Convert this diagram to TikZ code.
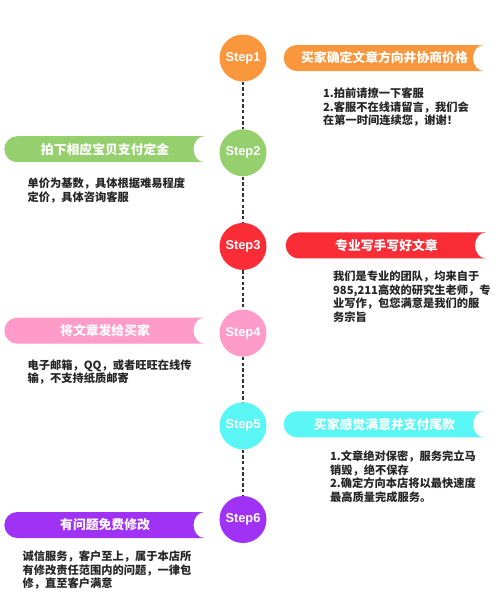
\documentclass[tikz,border=0pt]{standalone}
\usepackage{fontspec}
\setmainfont{Liberation Sans}
\newfontfamily\cjk{Noto Sans CJK SC}
\usetikzlibrary{positioning, shapes.misc}

\definecolor{stepone}{RGB}{250,150,60}
\definecolor{steptwo}{RGB}{150,208,110}
\definecolor{stepthree}{RGB}{250,45,55}
\definecolor{stepfour}{RGB}{255,155,200}
\definecolor{stepfive}{RGB}{90,245,245}
\definecolor{stepsix}{RGB}{160,50,245}

\begin{document}
\begin{tikzpicture}[every node/.style={font=\cjk\bfseries},
    stepdot/.style={circle, minimum size=0.94cm, inner sep=0pt, text=white,
                    font=\bfseries\fontsize{7.3}{8}\selectfont},
    banner/.style={rounded rectangle, rounded rectangle east arc=none,
                   minimum width=4cm, minimum height=0.52cm, inner sep=0pt,
                   text=white, font=\cjk\bfseries\fontsize{7.3}{8}\selectfont},
    note/.style={align=left, inner sep=0pt, text=black!85,
                 font=\cjk\bfseries\fontsize{6.4}{7.7}\selectfont},
    link/.style={dash pattern=on 1.9pt off 1.3pt, line width=0.75pt, black!80}]
    \useasboundingbox (0,0) rectangle (10,-11.82);
    % steps down the middle
    \node[stepdot, fill=stepone] (s1) at (4.86,-1.16) {Step1};
    \node[stepdot, fill=steptwo, below=0.94cm of s1] (s2) {Step2};
    \node[stepdot, fill=stepthree, below=0.92cm of s2] (s3) {Step3};
    \node[stepdot, fill=stepfour, below=0.78cm of s3] (s4) {Step4};
    \node[stepdot, fill=stepfive, below=0.90cm of s4] (s5) {Step5};
    \node[stepdot, fill=stepsix, below=0.92cm of s5] (s6) {Step6};
    \draw[link] (s1)--(s2); \draw[link] (s2)--(s3); \draw[link] (s3)--(s4);
    \draw[link] (s4)--(s5); \draw[link] (s5)--(s6);
    % banners
    \node[banner, fill=stepone, right=0.33cm of s1] (b1) {买家确定文章方向井协商价格};
    \node[banner, fill=steptwo, left=0.29cm of s2, yshift=0.07cm] (b2) {拍下相应宝贝支付定金};
    \node[banner, fill=stepthree, right=0.37cm of s3, yshift=0.02cm] (b3) {专业写手写好文章};
    \node[banner, fill=stepfour, left=0.29cm of s4, yshift=0.05cm] (b4) {将文章发给买家};
    \node[banner, fill=stepfive, right=0.33cm of s5, yshift=0.03cm] (b5) {买家感觉满意并支付尾款};
    \node[banner, fill=stepsix, left=0.29cm of s6, yshift=-0.11cm] (b6) {有问题免费修改};
    \fill[white] (b1.east) ellipse [x radius=0.22cm, y radius=0.26cm];
    \fill[white] (b2.east) ellipse [x radius=0.22cm, y radius=0.26cm];
    \fill[white] (b3.east) ellipse [x radius=0.22cm, y radius=0.26cm];
    \fill[white] (b4.east) ellipse [x radius=0.22cm, y radius=0.26cm];
    \fill[white] (b5.east) ellipse [x radius=0.22cm, y radius=0.26cm];
    \fill[white] (b6.east) ellipse [x radius=0.22cm, y radius=0.26cm];
    % notes under the banners
    \node[note, below right=0.32cm and 0.52cm of b1.south west] (t1)
        {1.拍前请撩一下客服\\2.客服不在线请留言，我们会\\在第一时间连续您，谢谢！};
    \node[note, below right=0.30cm and 0.20cm of b2.south west] (t2)
        {单价为基数，具体根据难易程度\\定价，具体咨询客服};
    \node[note, below right=0.24cm and 0.68cm of b3.south west] (t3)
        {我们是专业的团队，均来自于\\985,211高效的研究生老师，专\\业写作，包您满意是我们的服\\务宗旨};
    \node[note, below right=0.30cm and 0.20cm of b4.south west] (t4)
        {电子邮箱，QQ，或者旺旺在线传\\输，不支持纸质邮寄};
    \node[note, below right=0.26cm and 0.66cm of b5.south west] (t5)
        {1.文章绝对保密，服务完立马\\销毁，绝不保存\\2.确定方向本店将以最快速度\\最高质量完成服务。};
    \node[note, below right=0.24cm and 0.10cm of b6.south west] (t6)
        {诚信服务，客户至上，属于本店所\\有修改责任范围内的问题，一律包\\修，直至客户满意};
\end{tikzpicture}
\end{document}
